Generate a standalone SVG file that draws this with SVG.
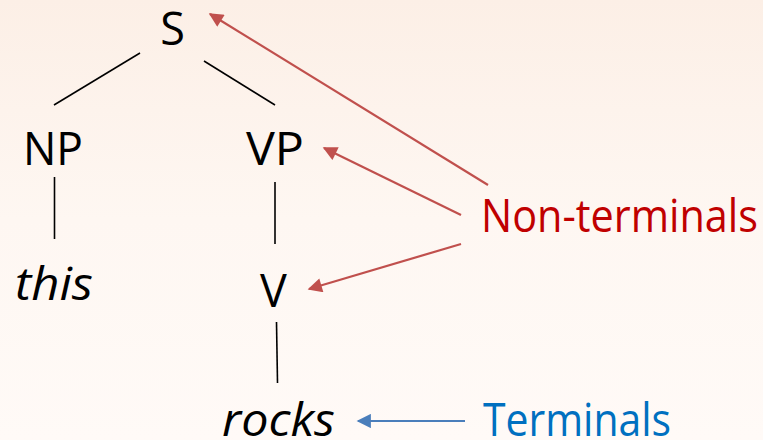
<svg xmlns="http://www.w3.org/2000/svg" width="763" height="440" viewBox="0 0 763 440">
<style>
.t{font-family:"Open Sans","Liberation Sans",sans-serif;font-size:45px;fill:#000}
.i{font-style:italic}
.edge{stroke:#000;stroke-width:1.6;fill:none}
.red{stroke:#C0504D;stroke-width:2.2;fill:none}
.blue{stroke:#4A7EBB;stroke-width:2.2;fill:none}
</style>
<defs>
<linearGradient id="bg" x1="0" y1="0" x2="0" y2="1">
<stop offset="0" stop-color="#FCEFE6"/>
<stop offset="0.5" stop-color="#FEF7F2"/>
<stop offset="1" stop-color="#FFFAF7"/>
</linearGradient>
<marker id="ar" viewBox="0 0 10 10" refX="9" refY="5" markerWidth="7.5" markerHeight="6.5" markerUnits="strokeWidth" orient="auto">
<path d="M0,0 L10,5 L0,10 z" fill="#C0504D"/>
</marker>
<marker id="ab" viewBox="0 0 10 10" refX="9" refY="5" markerWidth="7.5" markerHeight="6.5" markerUnits="strokeWidth" orient="auto">
<path d="M0,0 L10,5 L0,10 z" fill="#4A7EBB"/>
</marker>
</defs>
<rect width="763" height="440" fill="url(#bg)"/>
<g id="connectors">
<line class="edge" x1="140" y1="53" x2="54" y2="105"/>
<line class="edge" x1="204" y1="61" x2="275" y2="105"/>
<line class="edge" x1="54.5" y1="177" x2="54.5" y2="239"/>
<line class="edge" x1="275" y1="182" x2="275" y2="244"/>
<line class="edge" x1="276.5" y1="322" x2="277.5" y2="383"/>
<line class="red" x1="488" y1="185" x2="210" y2="14" marker-end="url(#ar)"/>
<line class="red" x1="461" y1="215" x2="324" y2="148" marker-end="url(#ar)"/>
<line class="red" x1="461" y1="244" x2="309" y2="289" marker-end="url(#ar)"/>
<line class="blue" x1="465" y1="421" x2="358" y2="421" marker-end="url(#ab)"/>
</g>
<g id="S"><text class="t" x="172.5" y="45" text-anchor="middle">S</text></g>
<g id="NP"><text class="t" x="23" y="165" textLength="60" lengthAdjust="spacingAndGlyphs">NP</text></g>
<g id="VP"><text class="t" x="246" y="165" textLength="58" lengthAdjust="spacingAndGlyphs">VP</text></g>
<g id="this"><text class="t i" x="15" y="300" textLength="78" lengthAdjust="spacingAndGlyphs">this</text></g>
<g id="V"><text class="t" x="273.5" y="307" text-anchor="middle">V</text></g>
<g id="rocks"><text class="t i" x="222" y="436" textLength="113" lengthAdjust="spacingAndGlyphs">rocks</text></g>
<g id="nonterminals"><text class="t" x="481" y="232" textLength="277" lengthAdjust="spacingAndGlyphs" style="fill:#C00000">Non-terminals</text></g>
<g id="terminals"><text class="t" x="483" y="436" textLength="188" lengthAdjust="spacingAndGlyphs" style="fill:#0070C0">Terminals</text></g>
</svg>
